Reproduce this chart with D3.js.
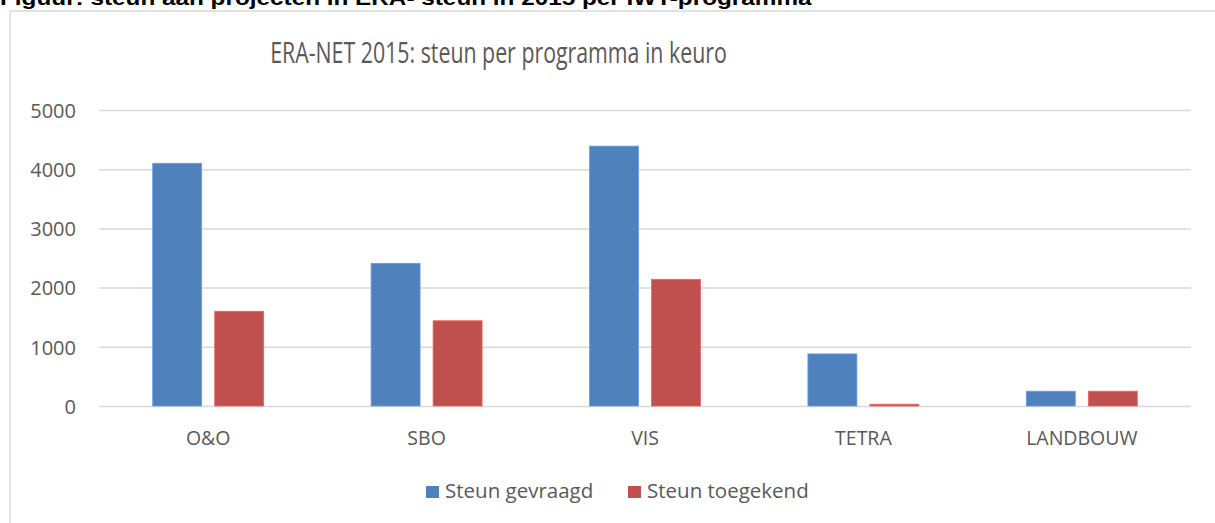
<!DOCTYPE html>
<html>
<head>
<meta charset="utf-8">
<script src="https://cdnjs.cloudflare.com/ajax/libs/d3/7.8.5/d3.min.js"></script>
<style>
  html, body { margin: 0; padding: 0; background: #fff; overflow: hidden; }
  svg { display: block; }
  text { font-family: "Open Sans", "Noto Sans", sans-serif; }
</style>
</head>
<body>
<svg id="chart" width="1215" height="523"></svg>
<script>
// chart values
const categories = ['O&O', 'SBO', 'VIS', 'TETRA', 'LANDBOUW'];
const seriesNames = ['Steun gevraagd', 'Steun toegekend'];
const steunGevraagd = [4100, 2410, 4390, 880, 250];
const steunToegekend = [1600, 1440, 2140, 30, 250];
const yTicks = [0, 1000, 2000, 3000, 4000, 5000];
const seriesColors = ['#4F81BD', '#C0504D'];

const svg = d3.select('#chart');

/**
 * Squeeze a text horizontally so it spans a given width (font stays its height)
 */
function squeezeTo(sel, cx, y, target) {
  const w = sel.node().getComputedTextLength();
  sel.attr('transform', `translate(${cx},${y}) scale(${target / w},1)`);
}

// caption of the document, cut off at the top of the picture
const caption = svg.append('text')
  .attr('x', 0)
  .attr('y', 0)
  .style('font-family', '"Liberation Sans", Arial, sans-serif')
  .style('font-weight', 'bold')
  .style('font-size', '20px')
  .style('fill', '#000')
  .text('Figuur: steun aan projecten in ERA- steun in 2015 per IWT-programma');
squeezeTo(caption, 0, 5, 812);

// chart frame (right and bottom edges fall outside the picture)
svg.append('rect')
  .attr('x', 10)
  .attr('y', 11)
  .attr('width', 1300)
  .attr('height', 600)
  .attr('fill', '#fff')
  .attr('stroke', '#D9D9D9')
  .attr('stroke-width', 1.5);

// title
const title = svg.append('text')
  .attr('text-anchor', 'middle')
  .style('font-size', '28.5px')
  .style('fill', '#595959')
  .text('ERA-NET 2015: steun per programma in keuro');
squeezeTo(title, 498.5, 63, 457);

const plot = { left: 99, right: 1191, top: 110, bottom: 406 };

const x0 = d3.scaleBand()
  .domain(categories)
  .range([plot.left, plot.right])
  .padding(0);

const x1 = d3.scaleBand()
  .domain(seriesNames)
  .range([0, x0.bandwidth()])
  .paddingInner(0.21)
  .paddingOuter(0.866);

const y = d3.scaleLinear()
  .domain([0, 5000])
  .range([plot.bottom, plot.top]);

// gridlines
svg.append('g')
  .attr('class', 'grid')
  .attr('transform', `translate(${plot.left},0)`)
  .call(d3.axisLeft(y).tickValues(yTicks).tickSize(-(plot.right - plot.left)).tickFormat(''))
  .call(g => g.select('.domain').remove())
  .call(g => g.selectAll('line').attr('stroke', '#D9D9D9').attr('stroke-width', 1.5));

// y tick labels
svg.append('g')
  .attr('class', 'y-axis')
  .attr('transform', `translate(76,0)`)
  .call(d3.axisLeft(y).tickValues(yTicks).tickSize(0).tickPadding(0).tickFormat(d3.format('d')))
  .call(g => g.select('.domain').remove())
  .call(g => g.selectAll('text')
    .attr('text-anchor', 'end')
    .attr('dy', '0.36em')
    .style('font-size', '20px')
    .style('fill', '#595959'));

// bars
const rows = categories.map((c, i) => ({
  category: c,
  values: [steunGevraagd[i], steunToegekend[i]]
}));

const groups = svg.append('g')
  .attr('class', 'bars')
  .selectAll('g')
  .data(rows)
  .join('g')
  .attr('transform', d => `translate(${x0(d.category)},0)`);

groups.selectAll('rect')
  .data(d => d.values.map((v, k) => ({ series: seriesNames[k], value: v, k })))
  .join('rect')
  .attr('x', d => x1(d.series))
  .attr('y', d => y(d.value))
  .attr('width', x1.bandwidth())
  .attr('height', d => plot.bottom - y(d.value))
  .attr('fill', d => seriesColors[d.k])
  .attr('stroke', d => d3.color(seriesColors[d.k]).brighter(0.6))
  .attr('stroke-width', 0.8);

// category labels
svg.append('g')
  .attr('class', 'x-axis')
  .attr('transform', `translate(0,${plot.bottom})`)
  .call(d3.axisBottom(x0).tickSize(0).tickPadding(0))
  .call(g => g.select('.domain').remove())
  .call(g => g.selectAll('text')
    .attr('dy', 0)
    .attr('y', 39)
    .style('font-size', '19.5px')
    .style('fill', '#595959'));

// legend
const legendItems = [
  { name: seriesNames[0], color: seriesColors[0], x: 426 },
  { name: seriesNames[1], color: seriesColors[1], x: 628 }
];
const legend = svg.append('g').attr('class', 'legend')
  .selectAll('g')
  .data(legendItems)
  .join('g')
  .attr('transform', d => `translate(${d.x},486)`);

legend.append('rect')
  .attr('width', 13)
  .attr('height', 12)
  .attr('fill', d => d.color);

legend.append('text')
  .attr('x', 19)
  .attr('y', 12)
  .style('font-size', '20.5px')
  .style('fill', '#595959')
  .text(d => d.name);
</script>
</body>
</html>
